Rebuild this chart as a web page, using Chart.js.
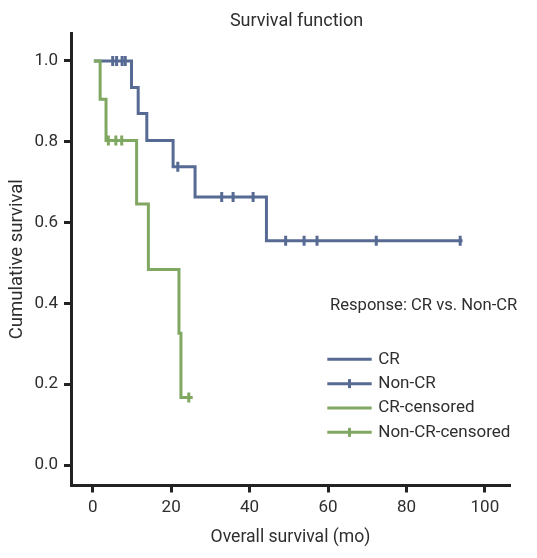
<!DOCTYPE html>
<html>
<head>
<meta charset="utf-8">
<script src="https://cdn.jsdelivr.net/npm/chart.js@4/dist/chart.umd.min.js"></script>
<style>
html,body{margin:0;padding:0;background:#fff;}
#wrap{width:537px;height:558px;}
</style>
</head>
<body>
<div id="wrap"><canvas id="c" width="537" height="558"></canvas></div>
<script>
// ---- data ----
const xTicks = [0, 20, 40, 60, 80, 100];
const yTicks = [0.0, 0.2, 0.4, 0.6, 0.8, 1.0];

// blue step curve (event times and survival after each step)
const blueTimes = [0.3, 9.9, 11.6, 13.8, 20.5, 26.1, 44.3, 94.3];
const blueSurv  = [1.0, 0.934, 0.870, 0.803, 0.738, 0.663, 0.555, 0.555];
// blue censor marks
const blueCensorTimes = [5.1, 6.1, 7.5, 8.3, 21.7, 32.9, 35.8, 40.9, 49.2, 53.9, 57.2, 72.3, 93.7];
const blueCensorSurv  = [1.0, 1.0, 1.0, 1.0, 0.738, 0.663, 0.663, 0.663, 0.555, 0.555, 0.555, 0.555, 0.555];

// green step curve
const greenTimes = [0.3, 1.9, 3.4, 11.2, 14.2, 22.0, 22.5, 25.5];
const greenSurv  = [1.0, 0.905, 0.803, 0.646, 0.484, 0.326, 0.167, 0.167];
// green censor marks
const greenCensorTimes = [4.0, 5.9, 7.4, 24.5];
const greenCensorSurv  = [0.803, 0.803, 0.803, 0.167];

const legendLabels = ['CR', 'Non-CR', 'CR-censored', 'Non-CR-censored'];
const legendTitle = 'Response: CR vs. Non-CR';
const chartTitle = 'Survival function';
const xTitle = 'Overall survival (mo)';
const yTitle = 'Cumulative survival';

// ---- styles ----
const BLUE = '#566a94';
const GREEN = '#80a862';
const AXIS = '#222222';
const TEXT = '#2e2e2e';
const FONT = 'Roboto, "Liberation Sans", sans-serif';

const pts = (xs, ys) => xs.map((x, i) => ({x: x, y: ys[i]}));

const titlePlugin = {
  id: 'kmTitle',
  afterDraw(chart) {
    const ctx = chart.ctx, a = chart.chartArea;
    ctx.save();
    ctx.fillStyle = TEXT;
    ctx.font = '18px ' + FONT;
    ctx.textAlign = 'center';
    ctx.textBaseline = 'middle';
    ctx.fillText(chartTitle, a.left + 225.5, 21);
    ctx.restore();
  }
};

const legendPlugin = {
  id: 'kmLegend',
  afterDraw(chart) {
    const ctx = chart.ctx, a = chart.chartArea;
    const styles = [
      {color: BLUE, tick: false},
      {color: BLUE, tick: true},
      {color: GREEN, tick: false},
      {color: GREEN, tick: true}
    ];
    ctx.save();
    ctx.fillStyle = TEXT;
    ctx.font = '16.6px ' + FONT;
    ctx.textAlign = 'left';
    ctx.textBaseline = 'middle';
    ctx.fillText(legendTitle, a.left + 259, 306);
    ctx.font = '17px ' + FONT;
    const x0 = a.left + 256.3, x1 = a.left + 300.7, tx = a.left + 307.3;
    for (let i = 0; i < legendLabels.length; i++) {
      const y = 359.3 + i * 24.35;
      const s = styles[i];
      ctx.strokeStyle = s.color;
      ctx.lineWidth = 3;
      ctx.beginPath();
      ctx.moveTo(x0, y);
      ctx.lineTo(x1, y);
      ctx.stroke();
      if (s.tick) {
        const xm = (x0 + x1) / 2;
        ctx.beginPath();
        ctx.moveTo(xm, y - 4.5);
        ctx.lineTo(xm, y + 4.5);
        ctx.stroke();
      }
      ctx.fillStyle = TEXT;
      ctx.fillText(legendLabels[i], tx, y);
    }
    ctx.restore();
  }
};

const lineDs = (label, data, color, order) => ({
  label: label, data: data, showLine: true, stepped: 'before',
  borderColor: color, backgroundColor: color, borderWidth: 3,
  borderCapStyle: 'butt', borderJoinStyle: 'miter',
  pointRadius: 0, pointHoverRadius: 0, fill: false, order: order
});
const censorDs = (label, data, color, order) => ({
  label: label, data: data, showLine: false,
  pointStyle: 'line', rotation: 90, pointRadius: 5, pointHoverRadius: 5,
  pointBorderWidth: 3, borderColor: color, backgroundColor: color,
  pointBorderColor: color, order: order
});

new Chart(document.getElementById('c'), {
  type: 'scatter',
  data: {
    datasets: [
      lineDs(legendLabels[0], pts(blueTimes, blueSurv), BLUE, 3),
      censorDs(legendLabels[1], pts(blueCensorTimes, blueCensorSurv), BLUE, 2),
      lineDs(legendLabels[2], pts(greenTimes, greenSurv), GREEN, 1),
      censorDs(legendLabels[3], pts(greenCensorTimes, greenCensorSurv), GREEN, 0)
    ]
  },
  options: {
    responsive: false,
    devicePixelRatio: 1,
    animation: false,
    events: [],
    layout: {padding: {top: 33, right: 27, left: 0, bottom: 0}},
    plugins: {legend: {display: false}, tooltip: {enabled: false}, title: {display: false}},
    scales: {
      x: {
        type: 'linear', position: 'bottom', min: -5.53, max: 106.4,
        afterFit(s) { s.height = 72.5; },
        afterBuildTicks(s) { s.ticks = xTicks.map(v => ({value: v})); },
        grid: {display: true, drawOnChartArea: false, drawTicks: true, tickLength: 7, tickWidth: 3, tickColor: AXIS},
        border: {display: true, width: 3, color: AXIS},
        ticks: {font: {family: FONT, size: 17}, color: TEXT, padding: 5, maxRotation: 0, callback: v => String(v)},
        title: {display: true, text: xTitle, color: TEXT, font: {family: FONT, size: 17.6}, padding: {top: 0, bottom: 10}}
      },
      y: {
        type: 'linear', position: 'left', min: -0.0507, max: 1.069,
        afterFit(s) { s.width = 71; },
        afterBuildTicks(s) { s.ticks = yTicks.map(v => ({value: v})); },
        grid: {display: true, drawOnChartArea: false, drawTicks: true, tickLength: 7, tickWidth: 3, tickColor: AXIS},
        border: {display: true, width: 3, color: AXIS},
        ticks: {font: {family: FONT, size: 17}, color: TEXT, padding: 6, callback: v => Number(v).toFixed(1)},
        title: {display: true, text: yTitle, color: TEXT, font: {family: FONT, size: 18.5}, padding: {top: 6, bottom: 0}}
      }
    }
  },
  plugins: [titlePlugin, legendPlugin]
});
</script>
</body>
</html>
